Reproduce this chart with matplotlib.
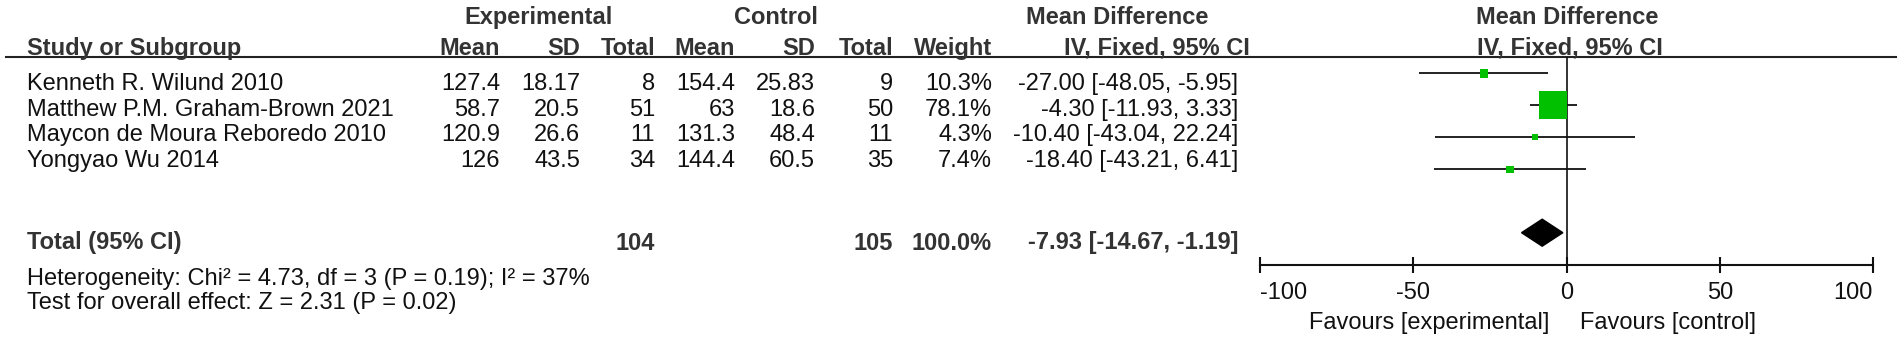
import matplotlib
matplotlib.use("Agg")
import matplotlib.pyplot as plt
import matplotlib.transforms as mtransforms

plt.rcParams['font.family'] = ['Liberation Sans', 'DejaVu Sans']
plt.rcParams['axes.unicode_minus'] = False

# Study data
studies = ["Kenneth R. Wilund 2010", "Matthew P.M. Graham-Brown 2021",
           "Maycon de Moura Reboredo 2010", "Yongyao Wu 2014"]
exp_mean = [127.4, 58.7, 120.9, 126]
exp_sd = [18.17, 20.5, 26.6, 43.5]
exp_n = [8, 51, 11, 34]
ctrl_mean = [154.4, 63, 131.3, 144.4]
ctrl_sd = [25.83, 18.6, 48.4, 60.5]
ctrl_n = [9, 50, 11, 35]
weight = [10.3, 78.1, 4.3, 7.4]
md = [-27.00, -4.30, -10.40, -18.40]
ci_lo = [-48.05, -11.93, -43.04, -43.21]
ci_hi = [-5.95, 3.33, 22.24, 6.41]

# Pooled result
total_exp_n = 104
total_ctrl_n = 105
total_weight = 100.0
pooled_md = -7.93
pooled_lo = -14.67
pooled_hi = -1.19

heterogeneity = "Heterogeneity: Chi\u00b2 = 4.73, df = 3 (P = 0.19); I\u00b2 = 37%"
overall_effect = "Test for overall effect: Z = 2.31 (P = 0.02)"

x_ticks = [-100, -50, 0, 50, 100]
col_headers = ["Mean", "SD", "Total", "Mean", "SD", "Total", "Weight"]

# Figure in pixel units
W, H = 1902, 338
fig = plt.figure(figsize=(W / 100, H / 100), dpi=100)
ax = fig.add_axes([0, 0, 1, 1])
ax.set_xlim(0, W)
ax.set_ylim(H, 0)
ax.axis("off")

FS = 17
body = dict(fontsize=FS, color="#111111", va="baseline")
bold = dict(fontsize=FS, color="#333333", fontweight="bold", va="baseline")

left_x = 27
col_x = [500, 580, 655, 735, 815, 893, 992, 1238]

# Header
ax.text(539, 24, "Experimental", ha="center", **bold)
ax.text(776, 24, "Control", ha="center", **bold)
ax.text(1117, 24, "Mean Difference", ha="center", **bold)
ax.text(1567, 24, "Mean Difference", ha="center", **bold)
ax.text(left_x, 55, "Study or Subgroup", ha="left", **bold)
for x, h in zip(col_x, col_headers):
    ax.text(x, 55, h, ha="right", **bold)
ax.text(1250, 55, "IV, Fixed, 95% CI", ha="right", **bold)
ax.text(1570, 55, "IV, Fixed, 95% CI", ha="center", **bold)
ax.plot([6, 1896], [57, 57], color="#222222", lw=1.5)

# Study rows
row_y = [90 + 25.7 * i for i in range(len(studies))]
for i, y in enumerate(row_y):
    ax.text(left_x, y, studies[i], ha="left", **body)
    vals = [f"{exp_mean[i]:g}", f"{exp_sd[i]:g}", f"{exp_n[i]}",
            f"{ctrl_mean[i]:g}", f"{ctrl_sd[i]:g}", f"{ctrl_n[i]}",
            f"{weight[i]:.1f}%",
            f"{md[i]:.2f} [{ci_lo[i]:.2f}, {ci_hi[i]:.2f}]"]
    for x, v in zip(col_x, vals):
        ax.text(x, y, v, ha="right", **body)

# Total row
ty = 249.5
ax.text(left_x, ty, "Total (95% CI)", ha="left", **bold)
ax.text(col_x[2], ty, f"{total_exp_n}", ha="right", **bold)
ax.text(col_x[5], ty, f"{total_ctrl_n}", ha="right", **bold)
ax.text(col_x[6], ty, f"{total_weight:.1f}%", ha="right", **bold)
ax.text(col_x[7], ty, f"{pooled_md:.2f} [{pooled_lo:.2f}, {pooled_hi:.2f}]",
        ha="right", **bold)
ax.text(left_x, 285, heterogeneity, ha="left", **body)
ax.text(left_x, 309.5, overall_effect, ha="left", **body)

# Forest plot
fx0, fx1, fy_top, fy_bot = 1260, 1873, 57, 265
fa = fig.add_axes([fx0 / W, 1 - fy_bot / H, (fx1 - fx0) / W, (fy_bot - fy_top) / H])
fa.set_xlim(-100, 100)
fa.set_ylim(fy_bot, fy_top)
fa.patch.set_alpha(0)
for s in ["left", "right", "top"]:
    fa.spines[s].set_visible(False)
fa.spines["bottom"].set_linewidth(1.5)
fa.spines["bottom"].set_color("#111111")
fa.set_xticks(x_ticks)
fa.set_yticks([])
fa.tick_params(axis="x", direction="inout", length=11, width=1.5,
               labelbottom=False, color="#111111")
fa.axvline(0, color="#111111", lw=1.2)

# tick labels: end labels kept inside the axis range
trans = mtransforms.blended_transform_factory(fa.transData, ax.transData)
for i, v in enumerate(x_ticks):
    ha = "left" if i == 0 else ("right" if i == len(x_ticks) - 1 else "center")
    fa.text(v, 299, f"{v}", ha=ha, transform=trans, **body)

forest_y = [73.3 + 32 * i for i in range(len(studies))]
fa.hlines(forest_y, ci_lo, ci_hi, color="#111111", lw=1.3)
wmax = max(weight)
sizes = [((3 + 25 * (w / wmax) ** 0.75) * 0.72) ** 2 for w in weight]
fa.scatter(md, forest_y, marker="s", s=sizes, color="#00c000",
           linewidths=0, zorder=3)

dy, dh = 232.7, 13.5
fa.fill([pooled_lo, pooled_md, pooled_hi, pooled_md],
        [dy, dy - dh, dy, dy + dh], color="black", zorder=3)

ax.text(1549, 329, "Favours [experimental]", ha="right", **body)
ax.text(1580, 329, "Favours [control]", ha="left", **body)

fig.savefig("out.png", dpi=100)
